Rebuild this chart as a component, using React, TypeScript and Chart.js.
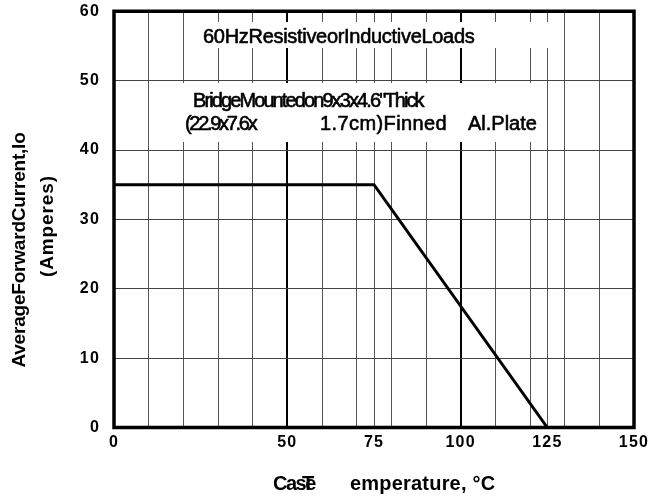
import React, { useEffect, useRef } from "react";
import { Chart, registerables } from "chart.js";

Chart.register(...registerables);

// ---- data ----
const caseTemp = [0, 75, 125];
const avgCurrent = [35, 35, 0];
const xGridValues = [0, 10, 20, 30, 40, 50, 60, 70, 75, 80, 90, 100, 110, 120, 125, 130, 140, 150];
const xTickLabels = [0, 50, 75, 100, 125, 150];
const xMajorGrid = [50, 100];
const yTickValues = [0, 10, 20, 30, 40, 50, 60];

const noteTitle = "60HzResistiveorInductiveLoads";
const noteLine1 = 'BridgeMountedon9x3x4.6"Thick';
const noteLine2a = "(22.9x7.6x";
const noteLine2b = "1.7cm)Finned";
const noteLine2c = "Al.Plate";
const yTitle1 = "AverageForwardCurrent,Io";
const yTitle2 = "(Amperes)";
const xTitleA = "Case";
const xTitleB = "T";
const xTitleC = "emperature, °C";

const FONT = '"Liberation Sans", Arial, Helvetica, sans-serif';

function txt(
  ctx: CanvasRenderingContext2D,
  s: string,
  x: number,
  y: number,
  font: string,
  spacing: number,
  align: CanvasTextAlign = "left",
  stroke = 0
) {
  ctx.save();
  ctx.font = font;
  (ctx as any).letterSpacing = spacing + "px";
  ctx.textAlign = align;
  ctx.textBaseline = "alphabetic";
  ctx.fillStyle = "#000";
  ctx.fillText(s, x, y);
  if (stroke > 0) {
    ctx.strokeStyle = "#000";
    ctx.lineWidth = stroke;
    ctx.lineJoin = "round";
    ctx.strokeText(s, x, y);
  }
  ctx.restore();
}

const decorPlugin = {
  id: "decor",
  beforeDraw(chart: any) {
    (chart.ctx as any).letterSpacing = "1.2px";
  },
  beforeDatasetsDraw(chart: any) {
    const ctx: CanvasRenderingContext2D = chart.ctx;
    ctx.save();
    ctx.fillStyle = "#fff";
    ctx.fillRect(195, 22, 360, 26);
    ctx.fillRect(180, 83, 360, 59);
    ctx.restore();
    const reg = "20px " + FONT;
    txt(ctx, noteTitle, 203, 43, reg, -0.3, "left", 0.6);
    txt(ctx, noteLine1, 193, 107, reg, -1.9, "left", 0.6);
    txt(ctx, noteLine2a, 185, 130, reg, -2.3, "left", 0.6);
    txt(ctx, noteLine2b, 320, 130, reg, 0.4, "left", 0.6);
    txt(ctx, noteLine2c, 468, 130, reg, 0, "left", 0.6);
  },
  afterDraw(chart: any) {
    const ctx: CanvasRenderingContext2D = chart.ctx;
    const a = chart.chartArea;
    ctx.save();
    ctx.strokeStyle = "#000";
    ctx.lineWidth = 3.5;
    ctx.beginPath();
    ctx.moveTo(a.left, a.top);
    ctx.lineTo(a.right, a.top);
    ctx.lineTo(a.right, a.bottom);
    ctx.lineTo(a.left, a.bottom);
    ctx.closePath();
    ctx.stroke();
    ctx.restore();

    const bold = "bold 19px " + FONT;
    ctx.save();
    ctx.translate(25, 250);
    ctx.rotate(-Math.PI / 2);
    txt(ctx, yTitle1, 0, 0, bold, -0.2, "center");
    ctx.restore();
    ctx.save();
    ctx.translate(53, 226);
    ctx.rotate(-Math.PI / 2);
    txt(ctx, yTitle2, 0, 0, bold, 0.9, "center");
    ctx.restore();

    const bold20 = "bold 20px " + FONT;
    txt(ctx, xTitleA, 273, 490, bold20, -1.5);
    txt(ctx, xTitleB, 302, 490, bold20, 0);
    txt(ctx, xTitleC, 350, 490, bold20, 0.2);
  },
};

export default function App() {
  const ref = useRef<HTMLCanvasElement | null>(null);
  useEffect(() => {
    if (!ref.current) return;
    const chart = new Chart(ref.current, {
      type: "line",
      data: {
        datasets: [
          {
            data: caseTemp.map((x, i) => ({ x, y: avgCurrent[i] })),
            borderColor: "#000",
            borderWidth: 3,
            pointRadius: 0,
            fill: false,
            tension: 0,
            borderJoinStyle: "miter",
          },
        ],
      },
      options: {
        animation: false,
        responsive: false,
        devicePixelRatio: 1,
        layout: { padding: { left: 0, top: 11.3, right: 18, bottom: 0 } },
        plugins: { legend: { display: false }, tooltip: { enabled: false } },
        scales: {
          x: {
            type: "linear",
            min: 0,
            max: 150,
            afterBuildTicks: (axis: any) => {
              axis.ticks = xGridValues.map((v) => ({ value: v }));
            },
            afterFit: (s: any) => {
              s.height = 499 - 427.5;
              s.paddingLeft = 0;
              s.paddingRight = 0;
            },
            ticks: {
              autoSkip: false,
              maxRotation: 0,
              padding: 5,
              color: "#000",
              font: { family: FONT, size: 16, weight: "bold" },
              callback: (v: any) => (xTickLabels.includes(Number(v)) ? String(v) : ""),
            },
            grid: {
              drawTicks: false,
              color: (c: any) => (c.tick && xMajorGrid.includes(c.tick.value) ? "#000" : "#555"),
              lineWidth: (c: any) => (c.tick && xMajorGrid.includes(c.tick.value) ? 2 : 1),
            },
            border: { display: false },
          },
          y: {
            type: "linear",
            min: 0,
            max: 60,
            afterBuildTicks: (axis: any) => {
              axis.ticks = yTickValues.map((v) => ({ value: v }));
            },
            afterFit: (s: any) => {
              s.width = 114;
              s.paddingTop = 0;
              s.paddingBottom = 0;
            },
            ticks: {
              padding: 14,
              color: "#000",
              font: { family: FONT, size: 16, weight: "bold" },
            },
            grid: { drawTicks: false, color: "#444", lineWidth: 1 },
            border: { display: false },
          },
        },
      } as any,
      plugins: [decorPlugin],
    });
    return () => chart.destroy();
  }, []);
  return (
    <div style={{ position: "absolute", left: 0, top: 0, width: 652, height: 499, background: "#fff" }}>
      <canvas ref={ref} width={652} height={499} />
    </div>
  );
}
